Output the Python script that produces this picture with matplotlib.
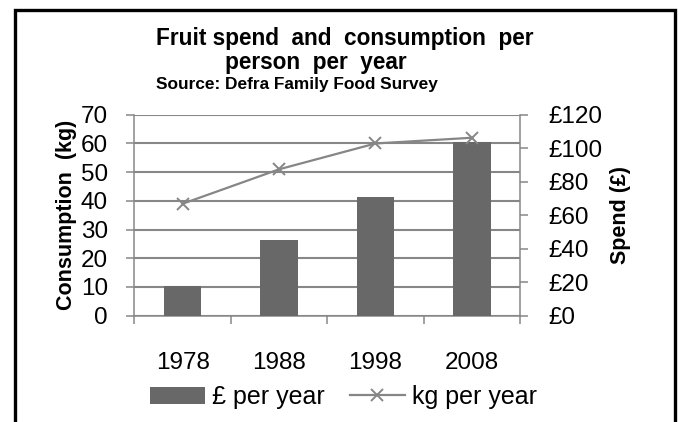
import matplotlib
matplotlib.use("Agg")
import matplotlib.pyplot as plt
from matplotlib.patches import Rectangle
from matplotlib.ticker import FixedLocator

plt.rcParams["font.family"] = ["Liberation Sans", "DejaVu Sans"]

years = ["1978", "1988", "1998", "2008"]
spend_gbp = [18, 45, 71, 104]          # £ per year (right axis)
consumption_kg = [39, 51, 60, 62]      # kg per year (left axis)
kg_ticks = [0, 10, 20, 30, 40, 50, 60, 70]
gbp_ticks = [0, 20, 40, 60, 80, 100, 120]
gbp_labels = [f"£{v}" for v in gbp_ticks]

GRID = "#878787"
BAR = "#686868"
LINE = "#868686"

fig = plt.figure(figsize=(6.79, 4.22), dpi=100)
ax = fig.add_axes([0.198, 0.252, 0.568, 0.476])
ax2 = ax.twinx()
ax3 = fig.add_axes(ax.get_position(), sharex=ax, sharey=ax)
ax3.axis("off")
ax3.patch.set_visible(False)

x = list(range(len(years)))

# left axis: consumption, with grid
ax.set_ylim(0, 70)
ax.set_yticks(kg_ticks)
ax.yaxis.grid(True, color=GRID, linewidth=1.5)
ax.set_axisbelow(True)
ax.tick_params(axis="y", labelsize=17.5, length=6, width=1.1, color=GRID, pad=13)
ax.set_ylabel("Consumption  (kg)", fontsize=15.5, fontweight="bold", labelpad=3)

# x axis: ticks at category boundaries, labels at centres
ax.set_xlim(-0.5, len(years) - 0.5)
ax.xaxis.set_major_locator(FixedLocator([i - 0.5 for i in range(len(years) + 1)]))
ax.xaxis.set_minor_locator(FixedLocator(x))
ax.set_xticklabels([], minor=False)
ax.set_xticklabels(years, minor=True)
ax.tick_params(axis="x", which="major", length=6, width=1.1, color=GRID)
ax.tick_params(axis="x", which="minor", length=0, labelsize=17.5, pad=26)

for side in ["left", "bottom"]:
    ax.spines[side].set_color(GRID)
    ax.spines[side].set_linewidth(1.1)
ax.spines["top"].set_visible(False)
ax.spines["right"].set_visible(False)

# right axis: spend bars
bars = ax2.bar(x, spend_gbp, width=0.39, color=BAR, label="£ per year")
ax2.set_ylim(0, 120)
ax2.set_yticks(gbp_ticks)
ax2.set_yticklabels(gbp_labels)
ax2.tick_params(axis="y", labelsize=17.5, length=6, width=1.1, color=GRID, pad=14)
ax2.set_ylabel("Spend (£)", fontsize=15.5, fontweight="bold", labelpad=6)
for side in ["left", "top", "bottom"]:
    ax2.spines[side].set_visible(False)
ax2.spines["right"].set_color(GRID)
ax2.spines["right"].set_linewidth(1.1)

# consumption line on top
line, = ax3.plot(x, consumption_kg, color=LINE, linewidth=1.6, marker="x",
                 markersize=9, markeredgewidth=1.4, label="kg per year")

# titles
fig.text(156 / 679, 1 - 38 / 422, "Fruit spend  and  consumption  per",
         ha="left", va="center", fontsize=16.3, fontweight="bold")
fig.text(225 / 679, 1 - 63 / 422, "person  per  year",
         ha="left", va="center", fontsize=16.3, fontweight="bold")
fig.text(156 / 679, 1 - 84 / 422, "Source: Defra Family Food Survey",
         ha="left", va="center", fontsize=12.4, fontweight="bold")

fig.legend([bars, line], ["£ per year", "kg per year"], loc="center",
           bbox_to_anchor=(0.506, 1 - 397 / 422), ncol=2, frameon=False,
           fontsize=18, handlelength=2.2, handletextpad=0.3, columnspacing=1.0)

# chart border
fig.add_artist(Rectangle((15 / 679, -0.05), 660 / 679, 1.05 - 10 / 422,
                         transform=fig.transFigure, fill=False,
                         edgecolor="black", linewidth=2.4, clip_on=False))

fig.savefig("out.png", dpi=100)
